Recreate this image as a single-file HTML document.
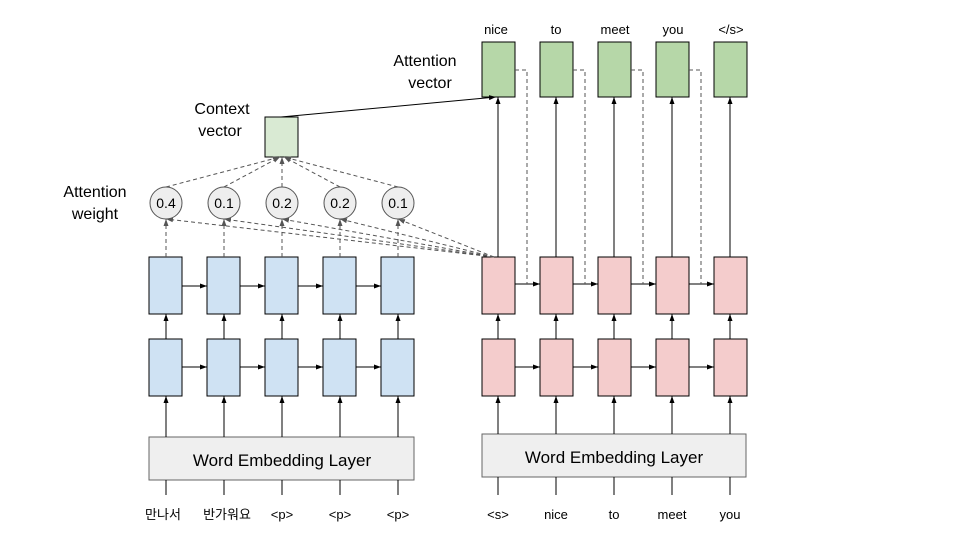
<!DOCTYPE html><html><head><meta charset="utf-8"><style>body{margin:0;background:#fff}svg{display:block}text{font-family:"Liberation Sans","Noto Sans CJK KR",sans-serif;fill:#000}</style></head><body>
<svg width="960" height="540" viewBox="0 0 960 540" xmlns="http://www.w3.org/2000/svg">
<defs>
<marker id="a" markerWidth="8" markerHeight="8" refX="7" refY="4" orient="auto" markerUnits="userSpaceOnUse"><path d="M0,1.5 L7,4 L0,6.5z" fill="#000"/></marker>
<marker id="g" markerWidth="8" markerHeight="8" refX="7" refY="4" orient="auto" markerUnits="userSpaceOnUse"><path d="M0,1.5 L7,4 L0,6.5z" fill="#555"/></marker>
</defs>
<g stroke="#000" stroke-width="1">
<g fill="#cfe2f3">
<rect x="149" y="257" width="33" height="57"/><rect x="207" y="257" width="33" height="57"/><rect x="265" y="257" width="33" height="57"/><rect x="323" y="257" width="33" height="57"/><rect x="381" y="257" width="33" height="57"/>
<rect x="149" y="339" width="33" height="57"/><rect x="207" y="339" width="33" height="57"/><rect x="265" y="339" width="33" height="57"/><rect x="323" y="339" width="33" height="57"/><rect x="381" y="339" width="33" height="57"/>
</g>
<g fill="#f4cccc">
<rect x="482" y="257" width="33" height="57"/><rect x="540" y="257" width="33" height="57"/><rect x="598" y="257" width="33" height="57"/><rect x="656" y="257" width="33" height="57"/><rect x="714" y="257" width="33" height="57"/>
<rect x="482" y="339" width="33" height="57"/><rect x="540" y="339" width="33" height="57"/><rect x="598" y="339" width="33" height="57"/><rect x="656" y="339" width="33" height="57"/><rect x="714" y="339" width="33" height="57"/>
</g>
<g fill="#b6d7a8">
<rect x="482" y="42" width="33" height="55"/><rect x="540" y="42" width="33" height="55"/><rect x="598" y="42" width="33" height="55"/><rect x="656" y="42" width="33" height="55"/><rect x="714" y="42" width="33" height="55"/>
</g>
<rect x="265" y="117" width="33" height="40" fill="#d9ead3"/>
<rect x="149" y="437" width="265" height="43" fill="#efefef" stroke="#666"/>
<rect x="482" y="434" width="264" height="43" fill="#efefef" stroke="#666"/>
</g>
<g fill="#eee" stroke="#555">
<circle cx="166" cy="203" r="16"/><circle cx="224" cy="203" r="16"/><circle cx="282" cy="203" r="16"/><circle cx="340" cy="203" r="16"/><circle cx="398" cy="203" r="16"/>
</g>
<g stroke="#000" stroke-width="1" marker-end="url(#a)">
<line x1="182" y1="286" x2="207" y2="286"/><line x1="240" y1="286" x2="265" y2="286"/><line x1="298" y1="286" x2="323" y2="286"/><line x1="356" y1="286" x2="381" y2="286"/>
<line x1="182" y1="367" x2="207" y2="367"/><line x1="240" y1="367" x2="265" y2="367"/><line x1="298" y1="367" x2="323" y2="367"/><line x1="356" y1="367" x2="381" y2="367"/>
<line x1="515" y1="367" x2="540" y2="367"/><line x1="573" y1="367" x2="598" y2="367"/><line x1="631" y1="367" x2="656" y2="367"/><line x1="689" y1="367" x2="714" y2="367"/>
<line x1="515" y1="284" x2="540" y2="284"/><line x1="573" y1="284" x2="598" y2="284"/><line x1="631" y1="284" x2="656" y2="284"/><line x1="689" y1="284" x2="714" y2="284"/>
<line x1="166" y1="339" x2="166" y2="314"/><line x1="224" y1="339" x2="224" y2="314"/><line x1="282" y1="339" x2="282" y2="314"/><line x1="340" y1="339" x2="340" y2="314"/><line x1="398" y1="339" x2="398" y2="314"/>
<line x1="498" y1="339" x2="498" y2="314"/><line x1="556" y1="339" x2="556" y2="314"/><line x1="614" y1="339" x2="614" y2="314"/><line x1="672" y1="339" x2="672" y2="314"/><line x1="730" y1="339" x2="730" y2="314"/>
<line x1="166" y1="437" x2="166" y2="396"/><line x1="224" y1="437" x2="224" y2="396"/><line x1="282" y1="437" x2="282" y2="396"/><line x1="340" y1="437" x2="340" y2="396"/><line x1="398" y1="437" x2="398" y2="396"/>
<line x1="498" y1="434" x2="498" y2="396"/><line x1="556" y1="434" x2="556" y2="396"/><line x1="614" y1="434" x2="614" y2="396"/><line x1="672" y1="434" x2="672" y2="396"/><line x1="730" y1="434" x2="730" y2="396"/>
<line x1="498" y1="257" x2="498" y2="97"/><line x1="556" y1="257" x2="556" y2="97"/><line x1="614" y1="257" x2="614" y2="97"/><line x1="672" y1="257" x2="672" y2="97"/><line x1="730" y1="257" x2="730" y2="97"/>
<line x1="281" y1="117" x2="496" y2="97"/>
</g>
<g stroke="#000">
<line x1="166" y1="495" x2="166" y2="480"/><line x1="224" y1="495" x2="224" y2="480"/><line x1="282" y1="495" x2="282" y2="480"/><line x1="340" y1="495" x2="340" y2="480"/><line x1="398" y1="495" x2="398" y2="480"/>
<line x1="498" y1="495" x2="498" y2="477"/><line x1="556" y1="495" x2="556" y2="477"/><line x1="614" y1="495" x2="614" y2="477"/><line x1="672" y1="495" x2="672" y2="477"/><line x1="730" y1="495" x2="730" y2="477"/>
</g>
<g stroke="#555" stroke-dasharray="4,3" fill="none">
<path d="M515,70 H527 V284"/><path d="M573,70 H585 V284"/><path d="M631,70 H643 V284"/><path d="M689,70 H701 V284"/>
</g>
<g stroke="#555" stroke-dasharray="4,3" marker-end="url(#g)">
<line x1="166" y1="257" x2="166" y2="219"/><line x1="224" y1="257" x2="224" y2="219"/><line x1="282" y1="257" x2="282" y2="219"/><line x1="340" y1="257" x2="340" y2="219"/><line x1="398" y1="257" x2="398" y2="219"/>
<line x1="494" y1="257" x2="166" y2="219"/><line x1="494" y1="257" x2="224" y2="219"/><line x1="494" y1="257" x2="282" y2="219"/><line x1="494" y1="257" x2="340" y2="219"/><line x1="494" y1="257" x2="398" y2="219"/>
<line x1="166" y1="187" x2="280" y2="157"/><line x1="224" y1="187" x2="280" y2="157"/><line x1="282" y1="187" x2="282" y2="157"/><line x1="340" y1="187" x2="284" y2="157"/><line x1="398" y1="187" x2="284" y2="157"/>
</g>
<g font-size="14" text-anchor="middle">
<text x="166" y="208">0.4</text><text x="224" y="208">0.1</text><text x="282" y="208">0.2</text><text x="340" y="208">0.2</text><text x="398" y="208">0.1</text>
</g>
<g font-size="16" text-anchor="middle">
<text x="222" y="114">Context</text><text x="220" y="136">vector</text>
<text x="95" y="197">Attention</text><text x="95" y="219">weight</text>
<text x="425" y="66">Attention</text><text x="430" y="88">vector</text>
<text x="282" y="466" font-size="17">Word Embedding Layer</text>
<text x="614" y="463" font-size="17">Word Embedding Layer</text>
</g>
<g font-size="13" text-anchor="middle">
<text x="496" y="34">nice</text><text x="556" y="34">to</text><text x="615" y="34">meet</text><text x="673" y="34">you</text><text x="731" y="34">&lt;/s&gt;</text>
<text x="163" y="519">만나서</text><text x="227" y="519">반가워요</text><text x="282" y="519">&lt;p&gt;</text><text x="340" y="519">&lt;p&gt;</text><text x="398" y="519">&lt;p&gt;</text>
<text x="498" y="519">&lt;s&gt;</text><text x="556" y="519">nice</text><text x="614" y="519">to</text><text x="672" y="519">meet</text><text x="730" y="519">you</text>
</g>
</svg></body></html>
